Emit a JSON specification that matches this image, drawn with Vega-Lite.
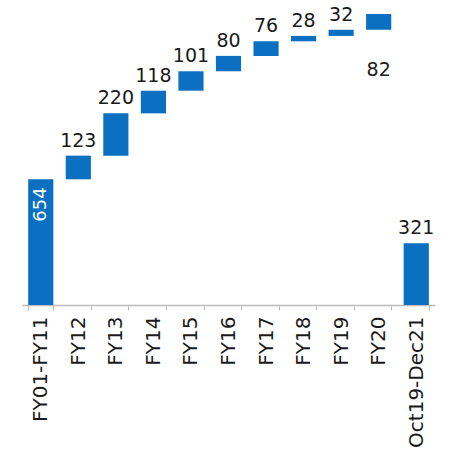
{
  "$schema": "https://vega.github.io/schema/vega-lite/v6.json",
  "autosize": "none",
  "width": 413,
  "height": 296,
  "padding": {"left": 22, "top": 9, "right": 18, "bottom": 159},
  "background": "white",
  "config": {"view": {"stroke": null}, "font": "DejaVu Sans"},
  "data": {
    "values": [
      {"period": "FY01-FY11", "lo": 0, "hi": 654, "amount": 654, "kind": "base"},
      {"period": "FY12", "lo": 654, "hi": 777, "amount": 123, "kind": "step"},
      {"period": "FY13", "lo": 777, "hi": 997, "amount": 220, "kind": "step"},
      {"period": "FY14", "lo": 997, "hi": 1115, "amount": 118, "kind": "step"},
      {"period": "FY15", "lo": 1115, "hi": 1216, "amount": 101, "kind": "step"},
      {"period": "FY16", "lo": 1216, "hi": 1296, "amount": 80, "kind": "step"},
      {"period": "FY17", "lo": 1296, "hi": 1372, "amount": 76, "kind": "step"},
      {"period": "FY18", "lo": 1372, "hi": 1400, "amount": 28, "kind": "step"},
      {"period": "FY19", "lo": 1400, "hi": 1432, "amount": 32, "kind": "step"},
      {"period": "FY20", "lo": 1432, "hi": 1514, "amount": 82, "kind": "last"},
      {"period": "Oct19-Dec21", "lo": 0, "hi": 321, "amount": 321, "kind": "total"}
    ]
  },
  "encoding": {
    "x": {
      "field": "period",
      "type": "nominal",
      "sort": null,
      "scale": {"paddingInner": 0.33, "paddingOuter": 0.165},
      "axis": {
        "title": null,
        "labelAngle": -90,
        "labelAlign": "right",
        "labelBaseline": "middle",
        "labelFontSize": 20,
        "labelColor": "#1a1a1a",
        "labelPadding": 6,
        "tickBand": "extent",
        "tickColor": "#bdbdbd",
        "tickSize": 5,
        "domainColor": "#bdbdbd",
        "domainWidth": 1.5
      }
    }
  },
  "layer": [
    {
      "mark": {"type": "bar", "color": "#0B6FC2"},
      "encoding": {
        "y": {"field": "lo", "type": "quantitative", "scale": {"domain": [0, 1540], "nice": false}, "axis": null},
        "y2": {"field": "hi"}
      }
    },
    {
      "transform": [{"filter": "datum.kind == 'step' || datum.kind == 'total'"}],
      "mark": {"type": "text", "fontSize": 19, "baseline": "bottom", "dy": -5, "color": "#1a1a1a"},
      "encoding": {
        "y": {"field": "hi", "type": "quantitative"},
        "text": {"field": "amount", "type": "quantitative"}
      }
    },
    {
      "transform": [{"filter": "datum.kind == 'last'"}],
      "mark": {"type": "text", "fontSize": 19, "baseline": "top", "dy": 31, "color": "#1a1a1a"},
      "encoding": {
        "y": {"field": "lo", "type": "quantitative"},
        "text": {"field": "amount", "type": "quantitative"}
      }
    },
    {
      "transform": [{"filter": "datum.kind == 'base'"}],
      "mark": {"type": "text", "fontSize": 18, "angle": 270, "align": "right", "baseline": "middle", "dx": -8, "color": "white"},
      "encoding": {
        "y": {"field": "hi", "type": "quantitative"},
        "text": {"field": "amount", "type": "quantitative"}
      }
    }
  ]
}
